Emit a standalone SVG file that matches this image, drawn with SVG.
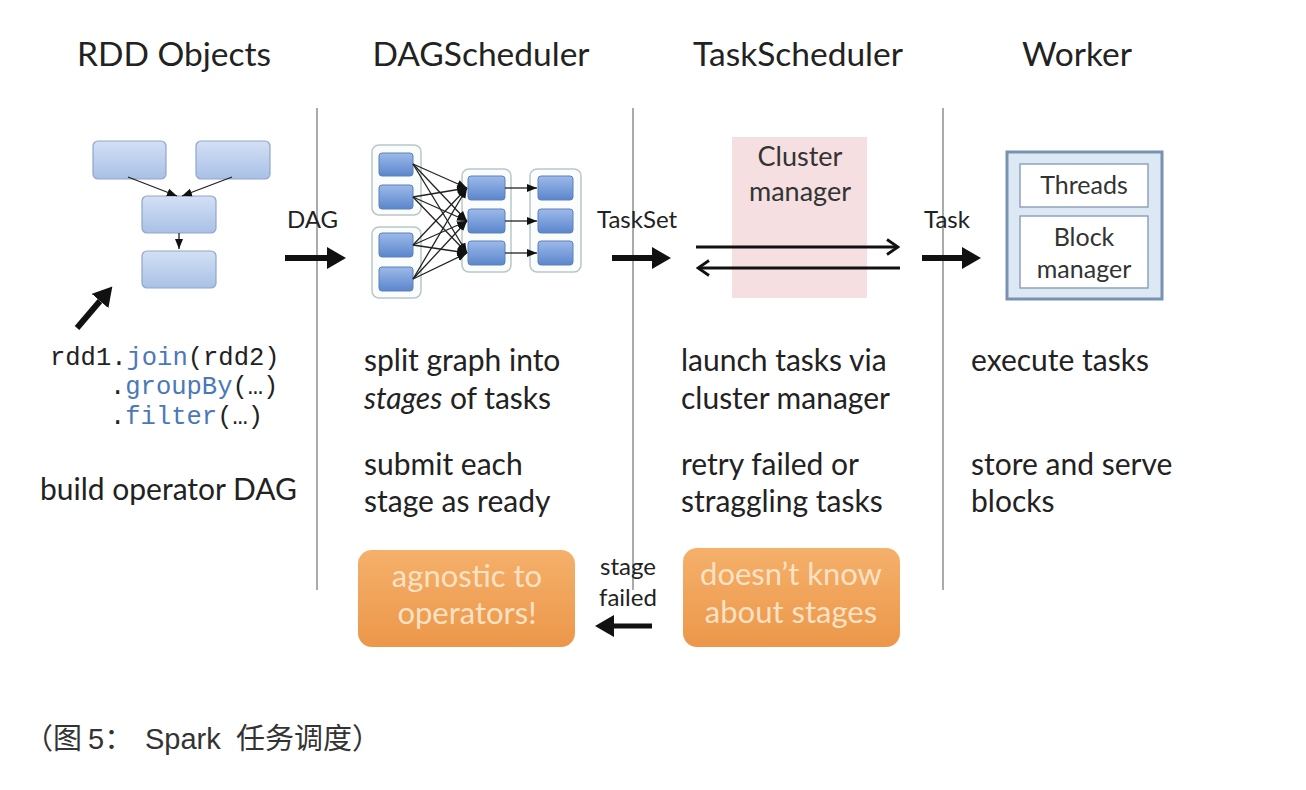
<svg xmlns="http://www.w3.org/2000/svg" width="1306" height="790" viewBox="0 0 1306 790">
<defs>
<style>
.title{font-family:Lato,"Open Sans",sans-serif;font-size:33.5px;fill:#222}
.body{font-family:Lato,"Open Sans",sans-serif;font-size:30px;fill:#222}
.lbl{font-family:Lato,"Open Sans",sans-serif;font-size:24px;fill:#222}
.code{font-family:"Liberation Mono",monospace;font-size:25.5px;fill:#222}
.kw{fill:#4a78b8}
.sep{stroke:#aaaaaa;stroke-width:2}
.rddbox{fill:url(#gRdd);stroke:#8fa6c8;stroke-width:1.2}
.sbox{fill:url(#gSmall);stroke:#5d80b8;stroke-width:1}
.grp{fill:#fbfcfc;stroke:#b9c7c7;stroke-width:1.5}
.thin{stroke:#222;stroke-width:1.3;fill:none}
.big{stroke:#111;stroke-width:6;fill:none}
.orange{fill:url(#gOrange)}
.otext{font-family:Lato,"Open Sans",sans-serif;font-size:31px;fill:#fbe2c4;text-anchor:middle}
.wtext{font-family:Lato,"Open Sans",sans-serif;font-size:25px;fill:#333;text-anchor:middle}
.ctext{font-family:Lato,"Open Sans",sans-serif;font-size:27px;fill:#333;text-anchor:middle}
</style>
<linearGradient id="gRdd" x1="0" y1="0" x2="0" y2="1"><stop offset="0" stop-color="#d3e0f5"/><stop offset="1" stop-color="#a9c0e6"/></linearGradient>
<linearGradient id="gSmall" x1="0" y1="0" x2="0" y2="1"><stop offset="0" stop-color="#9dbaea"/><stop offset="1" stop-color="#5b86cc"/></linearGradient>
<linearGradient id="gOrange" x1="0" y1="0" x2="0" y2="1"><stop offset="0" stop-color="#f5b06a"/><stop offset="1" stop-color="#ec974a"/></linearGradient>
<marker id="mBig" markerUnits="userSpaceOnUse" markerWidth="20" markerHeight="22" viewBox="0 0 20 22" refX="0" refY="11" orient="auto"><path d="M0,0 L19,11 L0,22 z" fill="#111"/></marker>
<marker id="mSmall" markerUnits="userSpaceOnUse" markerWidth="10" markerHeight="10" viewBox="0 0 10 10" refX="10" refY="5" orient="auto"><path d="M0,1 L10,5 L0,9 z" fill="#111"/></marker>
<marker id="mOpen" markerUnits="userSpaceOnUse" markerWidth="16" markerHeight="18" viewBox="0 0 16 18" refX="14" refY="9" orient="auto"><path d="M3,1.5 L14,9 L3,16.5" fill="none" stroke="#111" stroke-width="2.8"/></marker>
</defs>
<rect width="1306" height="790" fill="#ffffff"/>

<g id="titles">
<text class="title" x="174" y="66" text-anchor="middle">RDD Objects</text>
<text class="title" x="481" y="66" text-anchor="middle">DAGScheduler</text>
<text class="title" x="798" y="66" text-anchor="middle">TaskScheduler</text>
<text class="title" x="1077" y="66" text-anchor="middle">Worker</text>
</g>

<g id="separators">
<line class="sep" x1="317" y1="108" x2="317" y2="590"/>
<line class="sep" x1="633" y1="108" x2="633" y2="590"/>
<line class="sep" x1="943" y1="108" x2="943" y2="590"/>
</g>

<g id="rdd-objects">
<rect class="rddbox" x="93" y="141" width="73" height="38" rx="5"/>
<rect class="rddbox" x="196" y="141" width="74" height="38" rx="5"/>
<rect class="rddbox" x="142" y="196" width="74" height="37" rx="5"/>
<rect class="rddbox" x="142" y="251" width="74" height="37" rx="5"/>
<text class="code" x="50" y="365">rdd1.<tspan class="kw">join</tspan>(rdd2)</text>
<text class="code" x="110" y="394">.<tspan class="kw">groupBy</tspan>(…)</text>
<text class="code" x="110" y="424">.<tspan class="kw">filter</tspan>(…)</text>
<text class="body" x="40" y="500">build operator DAG</text>
</g>

<g id="dag-scheduler">
<rect class="grp" x="372" y="145" width="49" height="70" rx="7"/>
<rect class="grp" x="372" y="227" width="49" height="71" rx="7"/>
<rect class="grp" x="462" y="169" width="49" height="103" rx="7"/>
<rect class="grp" x="530" y="169" width="51" height="103" rx="7"/>
<rect class="sbox" x="379" y="153" width="34" height="23" rx="3"/>
<rect class="sbox" x="379" y="185" width="34" height="24" rx="3"/>
<rect class="sbox" x="379" y="233" width="34" height="24" rx="3"/>
<rect class="sbox" x="379" y="267" width="34" height="24" rx="3"/>
<rect class="sbox" x="468" y="176" width="37" height="24" rx="3"/>
<rect class="sbox" x="468" y="209" width="37" height="24" rx="3"/>
<rect class="sbox" x="468" y="241" width="37" height="24" rx="3"/>
<rect class="sbox" x="538" y="176" width="35" height="24" rx="3"/>
<rect class="sbox" x="538" y="209" width="35" height="24" rx="3"/>
<rect class="sbox" x="538" y="241" width="35" height="24" rx="3"/>
<text class="body" x="364" y="371">split graph into</text>
<text class="body" x="364" y="409"><tspan font-style="italic">stages</tspan> of tasks</text>
<text class="body" x="364" y="475">submit each</text>
<text class="body" x="364" y="512">stage as ready</text>
<rect class="orange" x="358" y="550" width="217" height="97" rx="14"/>
<text class="otext" x="467" y="587">agnostic to</text>
<text class="otext" x="467" y="624">operators!</text>
</g>

<g id="task-scheduler">
<rect x="732" y="137" width="135" height="161" fill="#f5dfe1"/>
<text class="ctext" x="800" y="166">Cluster</text>
<text class="ctext" x="800" y="201">manager</text>
<text class="body" x="681" y="371">launch tasks via</text>
<text class="body" x="681" y="409">cluster manager</text>
<text class="body" x="681" y="475">retry failed or</text>
<text class="body" x="681" y="512">straggling tasks</text>
<rect class="orange" x="683" y="548" width="217" height="99" rx="14"/>
<text class="otext" x="791" y="585">doesn’t know</text>
<text class="otext" x="791" y="623">about stages</text>
</g>

<g id="worker">
<rect x="1007" y="152" width="155" height="147" fill="#dde8f5" stroke="#7892b0" stroke-width="3"/>
<rect x="1020" y="164" width="128" height="43" fill="#ffffff" stroke="#8ea3bd" stroke-width="1.5"/>
<rect x="1020" y="216" width="128" height="72" fill="#ffffff" stroke="#8ea3bd" stroke-width="1.5"/>
<text class="wtext" x="1084" y="194">Threads</text>
<text class="wtext" x="1084" y="246">Block</text>
<text class="wtext" x="1084" y="278">manager</text>
<text class="body" x="971" y="371">execute tasks</text>
<text class="body" x="971" y="475">store and serve</text>
<text class="body" x="971" y="512">blocks</text>
</g>

<g id="connectors">
<line class="thin" x1="128" y1="177" x2="177" y2="196" marker-end="url(#mSmall)"/>
<line class="thin" x1="232" y1="177" x2="182" y2="196" marker-end="url(#mSmall)"/>
<line class="thin" x1="179" y1="233" x2="179" y2="249" marker-end="url(#mSmall)"/>
<line class="big" x1="77" y1="328" x2="100" y2="301" marker-end="url(#mBig)"/>
<line class="big" x1="285" y1="258" x2="327" y2="258" marker-end="url(#mBig)"/>
<text class="lbl" x="287" y="228">DAG</text>
<g class="thin">
<line x1="413" y1="164" x2="467" y2="188" marker-end="url(#mSmall)"/>
<line x1="413" y1="164" x2="467" y2="221" marker-end="url(#mSmall)"/>
<line x1="413" y1="164" x2="467" y2="253" marker-end="url(#mSmall)"/>
<line x1="413" y1="197" x2="467" y2="188" marker-end="url(#mSmall)"/>
<line x1="413" y1="197" x2="467" y2="221" marker-end="url(#mSmall)"/>
<line x1="413" y1="197" x2="467" y2="253" marker-end="url(#mSmall)"/>
<line x1="413" y1="245" x2="467" y2="188" marker-end="url(#mSmall)"/>
<line x1="413" y1="245" x2="467" y2="221" marker-end="url(#mSmall)"/>
<line x1="413" y1="245" x2="467" y2="253" marker-end="url(#mSmall)"/>
<line x1="413" y1="279" x2="467" y2="188" marker-end="url(#mSmall)"/>
<line x1="413" y1="279" x2="467" y2="221" marker-end="url(#mSmall)"/>
<line x1="413" y1="279" x2="467" y2="253" marker-end="url(#mSmall)"/>
<line x1="505" y1="188" x2="537" y2="188" marker-end="url(#mSmall)"/>
<line x1="505" y1="221" x2="537" y2="221" marker-end="url(#mSmall)"/>
<line x1="505" y1="253" x2="537" y2="253" marker-end="url(#mSmall)"/>
</g>
<text class="lbl" x="597" y="228" font-size="25">TaskSet</text>
<line class="big" x1="612" y1="258" x2="652" y2="258" marker-end="url(#mBig)"/>
<line x1="696" y1="247" x2="898" y2="247" stroke="#111" stroke-width="2.8" marker-end="url(#mOpen)"/>
<line x1="900" y1="268" x2="698" y2="268" stroke="#111" stroke-width="2.8" marker-end="url(#mOpen)"/>
<text class="lbl" x="924" y="228">Task</text>
<line class="big" x1="922" y1="258" x2="962" y2="258" marker-end="url(#mBig)"/>
<text class="lbl" x="628" y="575" text-anchor="middle" font-size="25">stage</text>
<text class="lbl" x="628" y="606" text-anchor="middle" font-size="25">failed</text>
<line x1="652" y1="626" x2="614" y2="626" stroke="#111" stroke-width="5" marker-end="url(#mBig)"/>
</g>

<text y="749" font-family="'Liberation Sans','Noto Sans CJK SC',sans-serif" font-size="29" fill="#333"><tspan x="24">（图</tspan><tspan x="88">5：</tspan><tspan x="145">Spark</tspan><tspan x="236">任务调度）</tspan></text>
</svg>
